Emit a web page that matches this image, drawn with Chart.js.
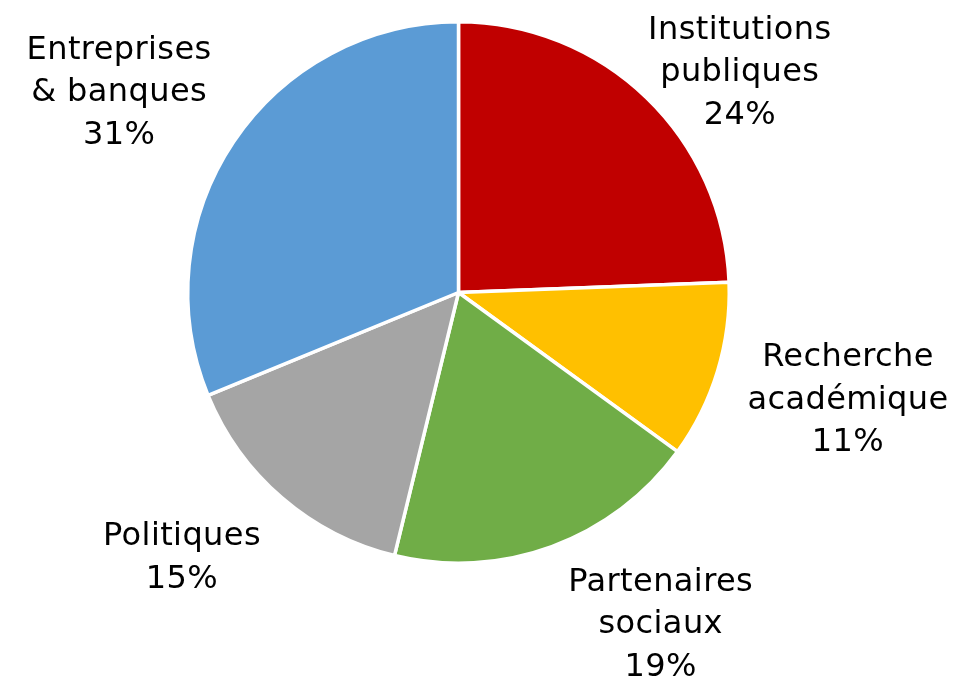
<!DOCTYPE html>
<html>
<head>
<meta charset="utf-8">
<script src="https://cdn.jsdelivr.net/npm/chart.js@4"></script>
<style>
  html, body { margin: 0; padding: 0; background: #ffffff; }
  #wrap { width: 958px; height: 680px; }
</style>
</head>
<body>
<div id="wrap"><canvas id="c" width="958" height="680"></canvas></div>
<script>
const categories = [
  ["Institutions", "publiques"],
  ["Recherche", "académique"],
  ["Partenaires", "sociaux"],
  ["Politiques"],
  ["Entreprises", "& banques"]
];
const values = [24.4, 10.6, 18.8, 15.0, 31.2];
const percentLabels = ["24%", "11%", "19%", "15%", "31%"];
const colors = ["#C00000", "#FFC000", "#70AD47", "#A5A5A5", "#5B9BD5"];

// label placement (layout only): distance factor from centre, angle nudge (deg), small pixel shifts
const labelDist = [1.32, 1.50, 1.43, 1.40, 1.46];
const labelNudge = [8.0, -1.5, -11.5, 5.5, -3];
const labelShiftX = [0, -2, -1, -3, 0];
const labelShiftY = [1, 0, 3, 3, 3];

const labelPlugin = {
  id: 'outerLabels',
  afterDraw(chart) {
    const ctx = chart.ctx;
    const meta = chart.getDatasetMeta(0);
    ctx.save();
    ctx.font = '32px "DejaVu Sans"';
    try { ctx.letterSpacing = '0.4px'; } catch (e) {}
    ctx.fillStyle = '#000000';
    ctx.textAlign = 'center';
    ctx.textBaseline = 'middle';
    const lh = 42.5;
    meta.data.forEach((arc, i) => {
      const mid = (arc.startAngle + arc.endAngle) / 2 + labelNudge[i] * Math.PI / 180;
      const r = arc.outerRadius * labelDist[i];
      const cx = arc.x + Math.cos(mid) * r + labelShiftX[i];
      const cy = arc.y + Math.sin(mid) * r + labelShiftY[i];
      const lines = categories[i].concat([percentLabels[i]]);
      const y0 = cy - (lines.length - 1) * lh / 2;
      lines.forEach((t, k) => ctx.fillText(t, cx, y0 + k * lh));
    });
    ctx.restore();
  }
};

new Chart(document.getElementById('c'), {
  type: 'pie',
  data: {
    labels: categories.map(c => c.join(' ')),
    datasets: [{
      data: values,
      backgroundColor: colors,
      borderColor: '#ffffff',
      borderWidth: 3.5
    }]
  },
  options: {
    responsive: false,
    animation: false,
    layout: { padding: { left: 0, right: 41, top: 20, bottom: 115 } },
    plugins: { legend: { display: false }, tooltip: { enabled: false } }
  },
  plugins: [labelPlugin]
});
</script>
</body>
</html>
